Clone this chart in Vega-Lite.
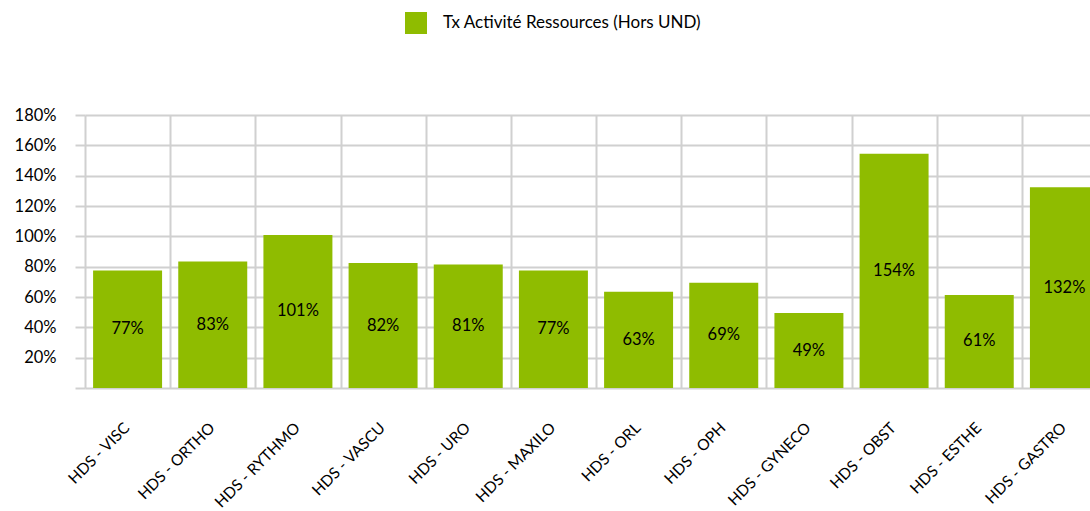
{
  "$schema": "https://vega.github.io/schema/vega-lite/v6.json",
  "autosize": {"type": "none"},
  "padding": {"left": 85, "top": 115, "right": 0, "bottom": 123},
  "width": 1022,
  "height": 273,
  "config": {"font": "Lato", "view": {"stroke": null}},
  "data": {"values": [
    {"cat": "HDS - VISC", "value": 0.774},
    {"cat": "HDS - ORTHO", "value": 0.834},
    {"cat": "HDS - RYTHMO", "value": 1.009},
    {"cat": "HDS - VASCU", "value": 0.824},
    {"cat": "HDS - URO", "value": 0.814},
    {"cat": "HDS - MAXILO", "value": 0.774},
    {"cat": "HDS - ORL", "value": 0.634},
    {"cat": "HDS - OPH", "value": 0.694},
    {"cat": "HDS - GYNECO", "value": 0.494},
    {"cat": "HDS - OBST", "value": 1.544},
    {"cat": "HDS - ESTHE", "value": 0.614},
    {"cat": "HDS - GASTRO", "value": 1.324}
  ]},
  "encoding": {
    "x": {"field": "cat", "type": "nominal", "sort": null,
      "scale": {"paddingInner": 0, "paddingOuter": 0},
      "axis": {"title": null, "domain": false, "ticks": false, "grid": true, "tickBand": "extent",
        "gridColor": "#d0d0d0", "gridWidth": 2, "labelAngle": -45, "labelFontSize": 15.5,
        "labelColor": "#000000", "labelPadding": 32, "labelOffset": -6, "labelOverlap": false}}
  },
  "layer": [
    {
      "mark": {"type": "bar", "color": "#8fbc00", "width": {"band": 0.81}},
      "encoding": {
        "y": {"field": "value", "type": "quantitative",
          "scale": {"domain": [0, 1.8], "nice": false},
          "axis": {"title": null, "values": [0, 0.2, 0.4, 0.6, 0.8, 1, 1.2, 1.4, 1.6, 1.8],
            "labelExpr": "datum.value == 0 ? '' : format(datum.value, '.0%')",
            "labelOverlap": false,
            "domain": false, "grid": true, "gridColor": "#d0d0d0", "gridWidth": 2,
            "tickColor": "#d0d0d0", "tickWidth": 2, "tickSize": 10, "labelPadding": 19,
            "labelFontSize": 16.5, "labelColor": "#000000"}},
        "color": {"datum": "Tx Activité Ressources (Hors UND)", "type": "nominal",
          "scale": {"range": ["#8fbc00"]},
          "legend": {"title": null, "orient": "none", "legendX": 320, "legendY": -103,
            "symbolType": "square", "symbolSize": 484, "symbolStrokeWidth": 0,
            "labelFontSize": 17, "labelColor": "#000000", "labelOffset": 16, "padding": 0,
            "labelLimit": 400}}
      }
    },
    {
      "mark": {"type": "text", "fontSize": 16.5, "color": "#000000", "baseline": "middle"},
      "encoding": {
        "y": {"field": "value", "type": "quantitative",
          "scale": {"domain": [0, 3.6], "nice": false}, "axis": null},
        "text": {"field": "value", "type": "quantitative", "format": ".0%"}
      }
    }
  ],
  "resolve": {"scale": {"y": "independent"}}
}
